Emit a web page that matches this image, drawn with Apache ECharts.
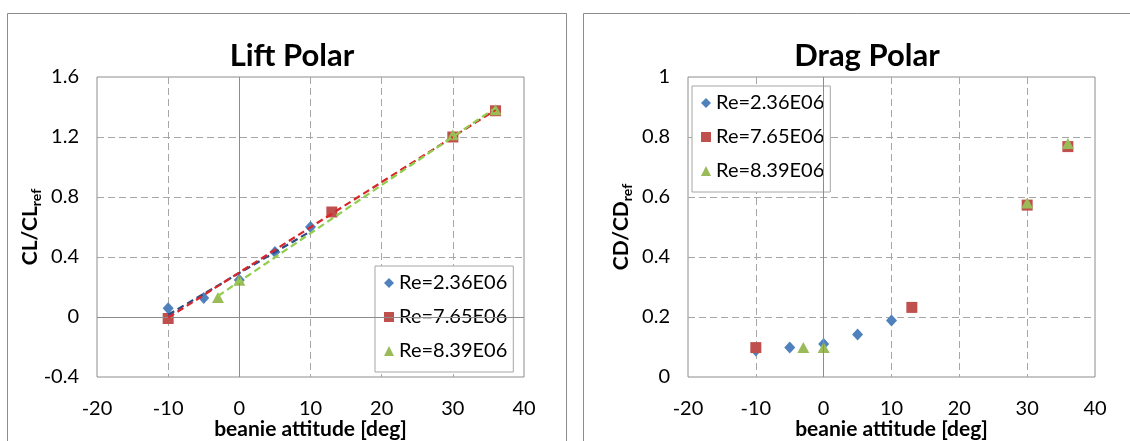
<!DOCTYPE html>
<html>
<head>
<meta charset="utf-8">
<script src="https://cdn.jsdelivr.net/npm/echarts@6/dist/echarts.min.js"></script>
<style>
  html, body { margin: 0; padding: 0; background: #ffffff; }
  #chart { width: 1130px; height: 441px; }
</style>
</head>
<body>
<div id="chart"></div>
<script>
// Reynolds-number cases shown in both panels
const caseNames = ['Re=2.36E06', 'Re=7.65E06', 'Re=8.39E06'];

// Beanie attitude [deg] sampled for each case
const attBlue  = [-10, -5, 0, 5, 10];
const attRed   = [-10, 13, 30, 36];
const attGreen = [-3, 0, 30, 36];

// Normalised lift CL/CLref
const liftBlue  = [0.058, 0.127, 0.247, 0.433, 0.600];
const liftRed   = [-0.010, 0.700, 1.200, 1.375];
const liftGreen = [0.130, 0.245, 1.215, 1.382];

// Normalised drag CD/CDref
const dragBlue  = [0.088, 0.098, 0.110, 0.142, 0.188];
const dragRed   = [0.098, 0.232, 0.573, 0.768];
const dragGreen = [0.098, 0.098, 0.580, 0.778];

// Axis ranges
const attRange  = { min: -20, max: 40, interval: 10 };
const liftRange = { min: -0.4, max: 1.6, interval: 0.4 };
const dragRange = { min: 0, max: 1, interval: 0.2 };

const FONT = 'Lato, "Liberation Sans", sans-serif';
const markerColors = ['#4F81BD', '#C0504D', '#9BBB59'];
const lineColors   = ['#2B4C86', '#D8262B', '#92CD4F'];
const symbols      = ['diamond', 'rect', 'triangle'];
const symbolSizes  = [[11, 12], 11, [12, 11]];

const pairs = (xs, ys) => xs.map((x, i) => [x, ys[i]]);

// Least-squares linear trend of a case, spanning its sampled attitudes
function linearTrend(xs, ys) {
  const n = xs.length;
  const mx = xs.reduce((s, v) => s + v, 0) / n;
  const my = ys.reduce((s, v) => s + v, 0) / n;
  let sxy = 0, sxx = 0;
  xs.forEach((x, i) => { sxy += (x - mx) * (ys[i] - my); sxx += (x - mx) * (x - mx); });
  const k = sxy / sxx;
  const x0 = Math.min(...xs), x1 = Math.max(...xs);
  return [[x0, my + k * (x0 - mx)], [x1, my + k * (x1 - mx)]];
}

const gridLine = { show: true, showMinLine: false, showMaxLine: false,
  lineStyle: { color: '#A6A6A6', width: 1, type: [7, 4] } };

function xAxisFor(gridIndex) {
  return {
    type: 'value', gridIndex, ...attRange,
    axisLine: { show: false }, axisTick: { show: false },
    splitLine: gridLine,
    axisLabel: { fontSize: 20, color: '#000', fontFamily: FONT, margin: 22 },
    name: 'beanie attitude [deg]', nameLocation: 'middle', nameGap: 42,
    nameMoveOverlap: false,
    nameTextStyle: { fontSize: 21, fontWeight: 'bold', color: '#000', fontFamily: FONT }
  };
}

function yAxisFor(gridIndex, range, base) {
  return {
    type: 'value', gridIndex, ...range,
    axisLine: { show: false }, axisTick: { show: false },
    splitLine: gridLine,
    axisLabel: { fontSize: 20, color: '#000', fontFamily: FONT, margin: 18 },
    name: '{a|' + base + '/' + base + '}{b|ref}', nameLocation: 'middle', nameGap: 54,
    nameMoveOverlap: false,
    nameTextStyle: {
      color: '#000', fontFamily: FONT, fontWeight: 'bold', fontSize: 21,
      rich: {
        a: { fontSize: 21, fontWeight: 'bold', fontFamily: FONT, color: '#000', lineHeight: 26 },
        b: { fontSize: 14, fontWeight: 'bold', fontFamily: FONT, color: '#000', verticalAlign: 'bottom' }
      }
    }
  };
}

// Solid zero lines drawn through each plot
const zeroLines = (withY) => ({
  silent: true, symbol: 'none', label: { show: false },
  lineStyle: { color: '#8C8C8C', width: 1, type: 'solid' },
  emphasis: { disabled: true },
  data: withY ? [{ xAxis: 0 }, { yAxis: 0 }] : [{ xAxis: 0 }]
});

function markers(i, axisIndex, xs, ys) {
  return {
    type: 'scatter', name: caseNames[i], xAxisIndex: axisIndex, yAxisIndex: axisIndex,
    data: pairs(xs, ys),
    symbol: symbols[i], symbolSize: symbolSizes[i],
    itemStyle: { color: markerColors[i], opacity: 1 },
    emphasis: { disabled: true }, animation: false, z: 2 + i
  };
}

function trend(i, xs, ys) {
  return {
    type: 'line', name: caseNames[i] + ' trend', xAxisIndex: 0, yAxisIndex: 0,
    data: linearTrend(xs, ys), showSymbol: false, symbol: 'none',
    lineStyle: { color: lineColors[i], width: 2.25, type: [7, 4] },
    emphasis: { disabled: true }, animation: false, silent: true, z: 6 + i
  };
}

function legendAt(left, top) {
  return {
    left, top, orient: 'vertical', selectedMode: false,
    data: caseNames.map((n, i) => ({ name: n, icon: symbols[i] })),
    itemWidth: 10, itemHeight: 10, itemGap: 14, itemTextGap: 5,
    padding: [7, 6, 11, 9],
    borderColor: '#A6A6A6', borderWidth: 1, backgroundColor: '#ffffff',
    textStyle: { fontSize: 20, color: '#000', fontFamily: FONT }
  };
}

const chart = echarts.init(document.getElementById('chart'), null, { renderer: 'canvas' });

const lift0 = markers(0, 0, attBlue, liftBlue);
lift0.markLine = zeroLines(true);
const drag0 = markers(0, 1, attBlue, dragBlue);
drag0.markLine = zeroLines(false);

chart.setOption({
  animation: false,
  backgroundColor: '#ffffff',
  graphic: [
    { type: 'rect', shape: { x: 7.5, y: 13.5, width: 559, height: 460 },
      style: { fill: 'none', stroke: '#8C8C8C', lineWidth: 1 }, silent: true, z: -1 },
    { type: 'rect', shape: { x: 583.5, y: 13.5, width: 560, height: 460 },
      style: { fill: 'none', stroke: '#8C8C8C', lineWidth: 1 }, silent: true, z: -1 }
  ],
  title: [
    { text: 'Lift Polar', left: 287, top: 35, textAlign: 'center',
      textStyle: { fontSize: 31, fontWeight: 'bold', color: '#000', fontFamily: FONT } },
    { text: 'Drag Polar', left: 862, top: 35, textAlign: 'center',
      textStyle: { fontSize: 31, fontWeight: 'bold', color: '#000', fontFamily: FONT } }
  ],
  grid: [
    { left: 97, top: 77, width: 427, height: 300, outerBoundsMode: 'none', containLabel: false,
      show: true, borderColor: '#8C8C8C', borderWidth: 1 },
    { left: 688, top: 77, width: 407, height: 300, outerBoundsMode: 'none', containLabel: false,
      show: true, borderColor: '#8C8C8C', borderWidth: 1 }
  ],
  xAxis: [xAxisFor(0), xAxisFor(1)],
  yAxis: [yAxisFor(0, liftRange, 'CL'), yAxisFor(1, dragRange, 'CD')],
  legend: [legendAt(375, 266), legendAt(692, 86)],
  series: [
    lift0,
    markers(1, 0, attRed, liftRed),
    markers(2, 0, attGreen, liftGreen),
    trend(0, attBlue, liftBlue),
    trend(1, attRed, liftRed),
    trend(2, attGreen, liftGreen),
    drag0,
    markers(1, 1, attRed, dragRed),
    markers(2, 1, attGreen, dragGreen)
  ]
});
</script>
</body>
</html>
